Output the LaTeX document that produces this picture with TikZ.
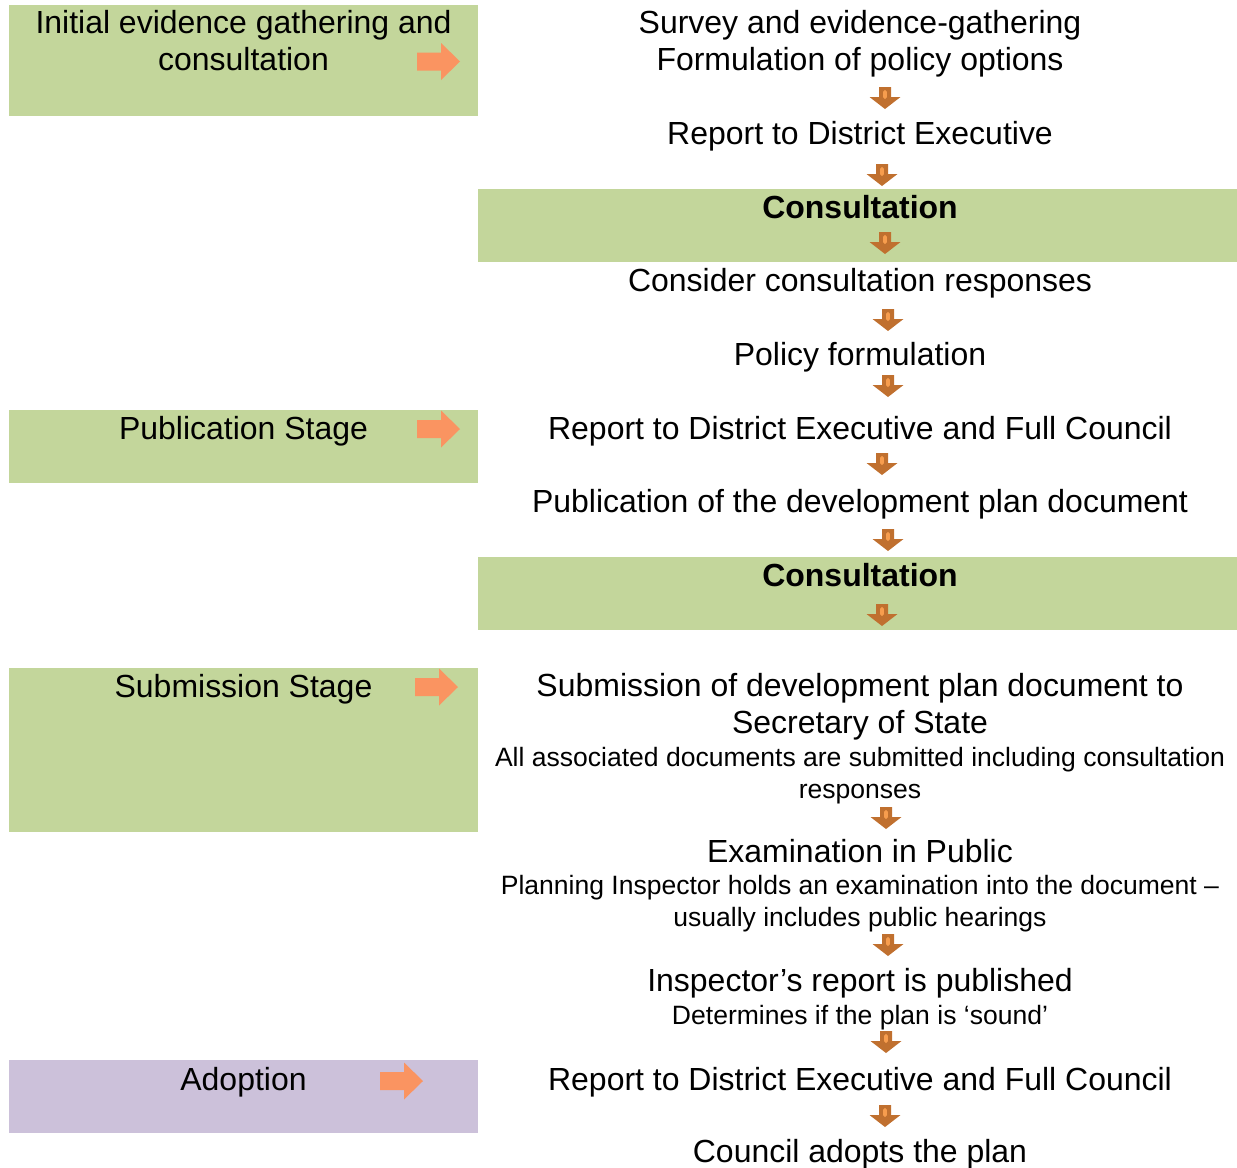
\documentclass[tikz,border=0pt]{standalone}
\usepackage{fontspec}
\setmainfont{Liberation Sans}
\usepackage{tikz}

\definecolor{stagegreen}{HTML}{C3D69B}
\definecolor{stagepurple}{HTML}{CCC1DA}
\definecolor{arroworange}{HTML}{FA9461}
\definecolor{arrowbrown}{HTML}{C0702F}
\definecolor{arrowstripe}{HTML}{F79D4E}

\newcommand{\stepfont}{\fontsize{18.2}{21.05}\selectfont}
\newcommand{\notefont}{\fontsize{15.1}{18.2}\selectfont}

\tikzset{
  steptext/.style={
    anchor=base, inner sep=0pt, align=center, font=\stepfont
  },
  steptextbold/.style={
    steptext, font=\stepfont\bfseries
  },
  notetext/.style={
    anchor=base, inner sep=0pt, align=center, font=\notefont
  },
  % small block arrow pointing down, placed by its top centre
  downarr/.pic={
    \fill[arrowbrown] (-6,0) -- (6,0) -- (6,10) -- (15.5,10) -- (0,22)
      -- (-15.5,10) -- (-6,10) -- cycle;
    \fill[arrowstripe, rounded corners=1pt] (-1.8,3) rectangle (1.8,12);
  },
  % block arrow pointing right, placed by its left middle
  rightarr/.pic={
    \fill[arroworange] (0,-9) -- (24,-9) -- (24,-18.5) -- (43,0)
      -- (24,18.5) -- (24,9) -- (0,9) -- cycle;
  },
}

\begin{document}
\begin{tikzpicture}[x=0.02cm, y=-0.02cm]
  \useasboundingbox (0,0) rectangle (1237,1167);

  % Stage boxes on the left
  \fill[stagegreen] (9,5) rectangle (478,116);
  \fill[stagegreen] (9,410) rectangle (478,483);
  \fill[stagegreen] (9,668) rectangle (478,832);
  \fill[stagepurple] (9,1060) rectangle (478,1133);

  % Consultation bands
  \fill[stagegreen] (478,189) rectangle (1237,262);
  \fill[stagegreen] (478,557) rectangle (1237,630);

  % Stage labels (multi-line nodes sit on their last baseline)
  \node[steptext] (initial) at (243.5,70)
    {Initial evidence gathering and\\consultation};
  \node[steptext] (pubstage) at (243.5,439) {Publication Stage};
  \node[steptext] (substage) at (243.5,697) {Submission Stage};
  \node[steptext] (adoption) at (243.5,1090) {Adoption};

  \pic at (417,61.5) {rightarr};
  \pic at (417,429) {rightarr};
  \pic at (415,687) {rightarr};
  \pic at (380,1081) {rightarr};

  % Process steps
  \node[steptext] (survey) at (860,70)
    {Survey and evidence-gathering\\Formulation of policy options};
  \node[steptext] (report1) at (860,144) {Report to District Executive};
  \node[steptextbold] (consult1) at (860,218) {Consultation};
  \node[steptext] (consider) at (860,291) {Consider consultation responses};
  \node[steptext] (policy) at (860,365) {Policy formulation};
  \node[steptext] (report2) at (860,439)
    {Report to District Executive and Full Council};
  \node[steptext] (publish) at (860,512)
    {Publication of the development plan document};
  \node[steptextbold] (consult2) at (860,586) {Consultation};
  \node[steptext] (submit) at (860,733)
    {Submission of development plan document to\\Secretary of State};
  \node[notetext] (submitnote) at (860,798)
    {All associated documents are submitted including consultation\\responses};
  \node[steptext] (exam) at (860,862) {Examination in Public};
  \node[notetext] (examnote) at (860,926)
    {Planning Inspector holds an examination into the document –\\usually includes public hearings};
  \node[steptext] (insp) at (860,991) {Inspector’s report is published};
  \node[notetext] (inspnote) at (860,1024) {Determines if the plan is ‘sound’};
  \node[steptext] (report3) at (860,1090)
    {Report to District Executive and Full Council};
  \node[steptext] (adopt) at (860,1162) {Council adopts the plan};

  % Arrows between steps
  \pic at (885,87) {downarr};
  \pic at (882,164) {downarr};
  \pic at (885,232) {downarr};
  \pic at (888,309) {downarr};
  \pic at (888,375) {downarr};
  \pic at (882,453) {downarr};
  \pic at (888,529) {downarr};
  \pic at (882,604) {downarr};
  \pic at (886,807) {downarr};
  \pic at (888,934) {downarr};
  \pic at (886,1031) {downarr};
  \pic at (885,1105) {downarr};
\end{tikzpicture}
\end{document}
